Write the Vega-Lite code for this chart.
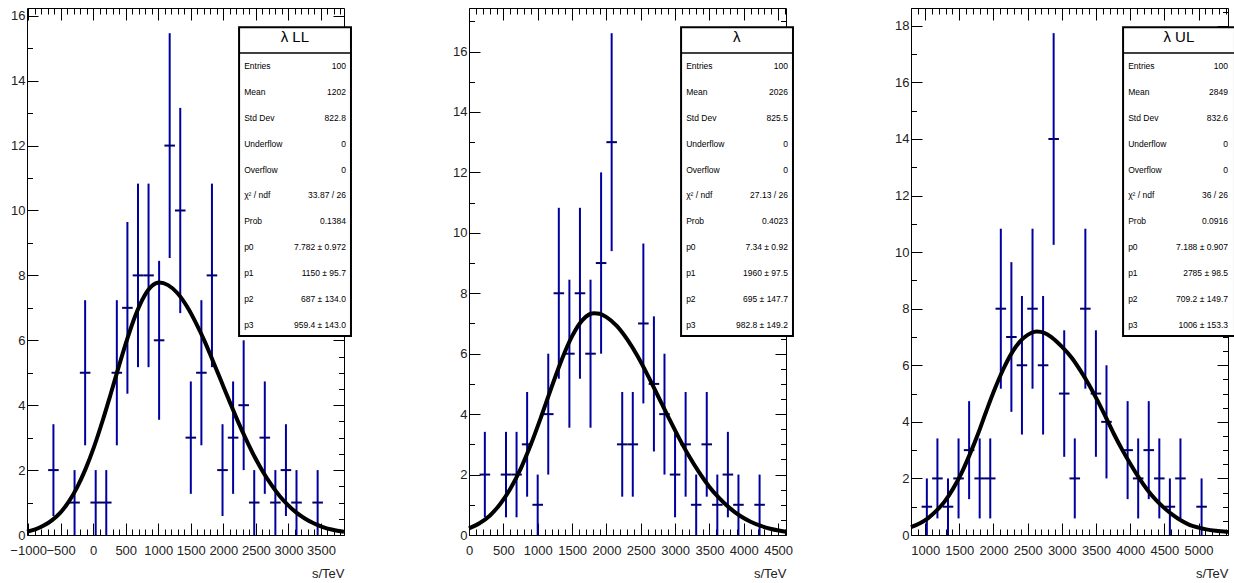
{
  "$schema": "https://vega.github.io/schema/vega-lite/v6.json",
  "background": "white",
  "padding": {"left": 9, "top": 7, "right": 0, "bottom": 0},
  "bounds": "flush",
  "spacing": 125,
  "config": {
    "view": {"stroke": "black", "strokeWidth": 1},
    "font": "Liberation Sans",
    "axis": {"labelFont": "Liberation Sans", "titleFont": "Liberation Sans", "labelColor": "#222", "titleColor": "#222", "tickColor": "black", "tickWidth": 1, "grid": false, "domain": false, "labelFontSize": 13, "titleFontSize": 13, "titleFontWeight": "normal"},
    "text": {"font": "Liberation Sans"}
  },
  "datasets": {
    "hist1": [
      {"s": -611.0, "s0": -692.2, "s1": -529.8, "n": 2, "lo": 0.586, "hi": 3.414},
      {"s": -286.2, "s0": -367.4, "s1": -205.0, "n": 1, "lo": 0, "hi": 2},
      {"s": -123.8, "s0": -205.0, "s1": -42.6, "n": 5, "lo": 2.764, "hi": 7.236},
      {"s": 38.6, "s0": -42.6, "s1": 119.8, "n": 1, "lo": 0, "hi": 2},
      {"s": 201.0, "s0": 119.8, "s1": 282.2, "n": 1, "lo": 0, "hi": 2},
      {"s": 363.4, "s0": 282.2, "s1": 444.6, "n": 5, "lo": 2.764, "hi": 7.236},
      {"s": 525.8, "s0": 444.6, "s1": 607.0, "n": 7, "lo": 4.354, "hi": 9.646},
      {"s": 688.2, "s0": 607.0, "s1": 769.4, "n": 8, "lo": 5.172, "hi": 10.828},
      {"s": 850.6, "s0": 769.4, "s1": 931.8, "n": 8, "lo": 5.172, "hi": 10.828},
      {"s": 1013.0, "s0": 931.8, "s1": 1094.2, "n": 6, "lo": 3.551, "hi": 8.449},
      {"s": 1175.4, "s0": 1094.2, "s1": 1256.6, "n": 12, "lo": 8.536, "hi": 15.464},
      {"s": 1337.8, "s0": 1256.6, "s1": 1419.0, "n": 10, "lo": 6.838, "hi": 13.162},
      {"s": 1500.2, "s0": 1419.0, "s1": 1581.4, "n": 3, "lo": 1.268, "hi": 4.732},
      {"s": 1662.6, "s0": 1581.4, "s1": 1743.8, "n": 5, "lo": 2.764, "hi": 7.236},
      {"s": 1825.0, "s0": 1743.8, "s1": 1906.2, "n": 8, "lo": 5.172, "hi": 10.828},
      {"s": 1987.4, "s0": 1906.2, "s1": 2068.6, "n": 2, "lo": 0.586, "hi": 3.414},
      {"s": 2149.8, "s0": 2068.6, "s1": 2231.0, "n": 3, "lo": 1.268, "hi": 4.732},
      {"s": 2312.2, "s0": 2231.0, "s1": 2393.4, "n": 4, "lo": 2, "hi": 6},
      {"s": 2474.6, "s0": 2393.4, "s1": 2555.8, "n": 1, "lo": 0, "hi": 2},
      {"s": 2637.0, "s0": 2555.8, "s1": 2718.2, "n": 3, "lo": 1.268, "hi": 4.732},
      {"s": 2799.4, "s0": 2718.2, "s1": 2880.6, "n": 1, "lo": 0, "hi": 2},
      {"s": 2961.8, "s0": 2880.6, "s1": 3043.0, "n": 2, "lo": 0.586, "hi": 3.414},
      {"s": 3124.2, "s0": 3043.0, "s1": 3205.4, "n": 1, "lo": 0, "hi": 2},
      {"s": 3449.0, "s0": 3367.8, "s1": 3530.2, "n": 1, "lo": 0, "hi": 2}
    ],
    "hist2": [
      {"s": 228.9, "s0": 152.0, "s1": 305.9, "n": 2, "lo": 0.586, "hi": 3.414},
      {"s": 536.7, "s0": 459.8, "s1": 613.7, "n": 2, "lo": 0.586, "hi": 3.414},
      {"s": 690.6, "s0": 613.7, "s1": 767.6, "n": 2, "lo": 0.586, "hi": 3.414},
      {"s": 844.5, "s0": 767.6, "s1": 921.5, "n": 3, "lo": 1.268, "hi": 4.732},
      {"s": 998.4, "s0": 921.5, "s1": 1075.4, "n": 1, "lo": 0, "hi": 2},
      {"s": 1152.3, "s0": 1075.4, "s1": 1229.3, "n": 4, "lo": 2, "hi": 6},
      {"s": 1306.2, "s0": 1229.3, "s1": 1383.2, "n": 8, "lo": 5.172, "hi": 10.828},
      {"s": 1460.1, "s0": 1383.2, "s1": 1537.1, "n": 6, "lo": 3.551, "hi": 8.449},
      {"s": 1614.0, "s0": 1537.1, "s1": 1691.0, "n": 8, "lo": 5.172, "hi": 10.828},
      {"s": 1767.9, "s0": 1691.0, "s1": 1844.9, "n": 6, "lo": 3.551, "hi": 8.449},
      {"s": 1921.8, "s0": 1844.9, "s1": 1998.8, "n": 9, "lo": 6, "hi": 12},
      {"s": 2075.7, "s0": 1998.8, "s1": 2152.7, "n": 13, "lo": 9.394, "hi": 16.606},
      {"s": 2229.6, "s0": 2152.7, "s1": 2306.6, "n": 3, "lo": 1.268, "hi": 4.732},
      {"s": 2383.5, "s0": 2306.6, "s1": 2460.5, "n": 3, "lo": 1.268, "hi": 4.732},
      {"s": 2537.4, "s0": 2460.5, "s1": 2614.4, "n": 7, "lo": 4.354, "hi": 9.646},
      {"s": 2691.3, "s0": 2614.4, "s1": 2768.3, "n": 5, "lo": 2.764, "hi": 7.236},
      {"s": 2845.2, "s0": 2768.3, "s1": 2922.2, "n": 4, "lo": 2, "hi": 6},
      {"s": 2999.1, "s0": 2922.2, "s1": 3076.1, "n": 2, "lo": 0.586, "hi": 3.414},
      {"s": 3153.0, "s0": 3076.1, "s1": 3230.0, "n": 3, "lo": 1.268, "hi": 4.732},
      {"s": 3306.9, "s0": 3230.0, "s1": 3383.9, "n": 1, "lo": 0, "hi": 2},
      {"s": 3460.8, "s0": 3383.9, "s1": 3537.8, "n": 3, "lo": 1.268, "hi": 4.732},
      {"s": 3614.7, "s0": 3537.8, "s1": 3691.7, "n": 1, "lo": 0, "hi": 2},
      {"s": 3768.6, "s0": 3691.7, "s1": 3845.6, "n": 2, "lo": 0.586, "hi": 3.414},
      {"s": 3922.5, "s0": 3845.6, "s1": 3999.5, "n": 1, "lo": 0, "hi": 2},
      {"s": 4230.3, "s0": 4153.4, "s1": 4307.3, "n": 1, "lo": 0, "hi": 2}
    ],
    "hist3": [
      {"s": 1024.9, "s0": 947.6, "s1": 1102.2, "n": 1, "lo": 0, "hi": 2},
      {"s": 1179.5, "s0": 1102.2, "s1": 1256.8, "n": 2, "lo": 0.586, "hi": 3.414},
      {"s": 1334.1, "s0": 1256.8, "s1": 1411.4, "n": 1, "lo": 0, "hi": 2},
      {"s": 1488.7, "s0": 1411.4, "s1": 1566.0, "n": 2, "lo": 0.586, "hi": 3.414},
      {"s": 1643.3, "s0": 1566.0, "s1": 1720.6, "n": 3, "lo": 1.268, "hi": 4.732},
      {"s": 1797.9, "s0": 1720.6, "s1": 1875.2, "n": 2, "lo": 0.586, "hi": 3.414},
      {"s": 1952.5, "s0": 1875.2, "s1": 2029.8, "n": 2, "lo": 0.586, "hi": 3.414},
      {"s": 2107.1, "s0": 2029.8, "s1": 2184.4, "n": 8, "lo": 5.172, "hi": 10.828},
      {"s": 2261.7, "s0": 2184.4, "s1": 2339.0, "n": 7, "lo": 4.354, "hi": 9.646},
      {"s": 2416.3, "s0": 2339.0, "s1": 2493.6, "n": 6, "lo": 3.551, "hi": 8.449},
      {"s": 2570.9, "s0": 2493.6, "s1": 2648.2, "n": 8, "lo": 5.172, "hi": 10.828},
      {"s": 2725.5, "s0": 2648.2, "s1": 2802.8, "n": 6, "lo": 3.551, "hi": 8.449},
      {"s": 2880.1, "s0": 2802.8, "s1": 2957.4, "n": 14, "lo": 10.258, "hi": 17.742},
      {"s": 3034.7, "s0": 2957.4, "s1": 3112.0, "n": 5, "lo": 2.764, "hi": 7.236},
      {"s": 3189.3, "s0": 3112.0, "s1": 3266.6, "n": 2, "lo": 0.586, "hi": 3.414},
      {"s": 3343.9, "s0": 3266.6, "s1": 3421.2, "n": 8, "lo": 5.172, "hi": 10.828},
      {"s": 3498.5, "s0": 3421.2, "s1": 3575.8, "n": 5, "lo": 2.764, "hi": 7.236},
      {"s": 3653.1, "s0": 3575.8, "s1": 3730.4, "n": 4, "lo": 2, "hi": 6},
      {"s": 3962.3, "s0": 3885.0, "s1": 4039.6, "n": 3, "lo": 1.268, "hi": 4.732},
      {"s": 4116.9, "s0": 4039.6, "s1": 4194.2, "n": 2, "lo": 0.586, "hi": 3.414},
      {"s": 4271.5, "s0": 4194.2, "s1": 4348.8, "n": 3, "lo": 1.268, "hi": 4.732},
      {"s": 4426.1, "s0": 4348.8, "s1": 4503.4, "n": 2, "lo": 0.586, "hi": 3.414},
      {"s": 4580.7, "s0": 4503.4, "s1": 4658.0, "n": 1, "lo": 0, "hi": 2},
      {"s": 4735.3, "s0": 4658.0, "s1": 4812.6, "n": 2, "lo": 0.586, "hi": 3.414},
      {"s": 5044.5, "s0": 4967.2, "s1": 5121.8, "n": 1, "lo": 0, "hi": 2}
    ],
    "curve1": [
      {"s": -1017, "f": 0.10}, {"s": -890, "f": 0.17}, {"s": -761, "f": 0.29}, {"s": -630, "f": 0.46},
      {"s": -504, "f": 0.69}, {"s": -375, "f": 1.03}, {"s": -247, "f": 1.47}, {"s": -118, "f": 2.03},
      {"s": 10, "f": 2.70}, {"s": 140, "f": 3.49}, {"s": 267, "f": 4.33}, {"s": 396, "f": 5.21},
      {"s": 525, "f": 6.05}, {"s": 650, "f": 6.77}, {"s": 782, "f": 7.35}, {"s": 900, "f": 7.67},
      {"s": 1014, "f": 7.78}, {"s": 1150, "f": 7.70}, {"s": 1296, "f": 7.45}, {"s": 1451, "f": 7.01},
      {"s": 1580, "f": 6.53}, {"s": 1708, "f": 5.99}, {"s": 1836, "f": 5.38}, {"s": 1965, "f": 4.75},
      {"s": 2094, "f": 4.12}, {"s": 2222, "f": 3.51}, {"s": 2351, "f": 2.94}, {"s": 2480, "f": 2.41},
      {"s": 2608, "f": 1.95}, {"s": 2736, "f": 1.55}, {"s": 2865, "f": 1.20}, {"s": 2994, "f": 0.92},
      {"s": 3123, "f": 0.69}, {"s": 3252, "f": 0.51}, {"s": 3380, "f": 0.37}, {"s": 3508, "f": 0.26},
      {"s": 3680, "f": 0.16}, {"s": 3854, "f": 0.10}
    ],
    "curve2": [
      {"s": -2, "f": 0.22}, {"s": 150, "f": 0.39}, {"s": 300, "f": 0.64}, {"s": 450, "f": 1.02},
      {"s": 600, "f": 1.53}, {"s": 750, "f": 2.19}, {"s": 900, "f": 3.00}, {"s": 1050, "f": 3.92},
      {"s": 1200, "f": 4.89}, {"s": 1350, "f": 5.81}, {"s": 1500, "f": 6.58}, {"s": 1650, "f": 7.11},
      {"s": 1750, "f": 7.30}, {"s": 1822, "f": 7.34}, {"s": 1900, "f": 7.32}, {"s": 2000, "f": 7.21},
      {"s": 2150, "f": 6.92}, {"s": 2300, "f": 6.48}, {"s": 2450, "f": 5.93}, {"s": 2600, "f": 5.29},
      {"s": 2750, "f": 4.60}, {"s": 2900, "f": 3.91}, {"s": 3050, "f": 3.24}, {"s": 3200, "f": 2.62},
      {"s": 3350, "f": 2.07}, {"s": 3500, "f": 1.59}, {"s": 3650, "f": 1.20}, {"s": 3800, "f": 0.88},
      {"s": 3950, "f": 0.63}, {"s": 4100, "f": 0.44}, {"s": 4250, "f": 0.30}, {"s": 4400, "f": 0.20},
      {"s": 4615, "f": 0.11}
    ],
    "curve3": [
      {"s": 793, "f": 0.28}, {"s": 917, "f": 0.41}, {"s": 1040, "f": 0.59}, {"s": 1162, "f": 0.85},
      {"s": 1284, "f": 1.18}, {"s": 1407, "f": 1.63}, {"s": 1530, "f": 2.18}, {"s": 1653, "f": 2.85},
      {"s": 1776, "f": 3.59}, {"s": 1898, "f": 4.40}, {"s": 2020, "f": 5.17}, {"s": 2143, "f": 5.86},
      {"s": 2266, "f": 6.43}, {"s": 2380, "f": 6.82}, {"s": 2462, "f": 7.01}, {"s": 2550, "f": 7.14},
      {"s": 2634, "f": 7.19}, {"s": 2750, "f": 7.14}, {"s": 2855, "f": 6.98}, {"s": 3000, "f": 6.66},
      {"s": 3150, "f": 6.25}, {"s": 3270, "f": 5.82}, {"s": 3395, "f": 5.32}, {"s": 3520, "f": 4.76},
      {"s": 3640, "f": 4.18}, {"s": 3760, "f": 3.58}, {"s": 3886, "f": 3.00}, {"s": 4010, "f": 2.48},
      {"s": 4131, "f": 2.01}, {"s": 4250, "f": 1.60}, {"s": 4376, "f": 1.24}, {"s": 4500, "f": 0.95},
      {"s": 4622, "f": 0.71}, {"s": 4745, "f": 0.51}, {"s": 4867, "f": 0.36}, {"s": 5000, "f": 0.26},
      {"s": 5112, "f": 0.20}, {"s": 5250, "f": 0.15}, {"s": 5431, "f": 0.11}
    ],
    "stats1": [
      {"r": 1, "label": "Entries", "val": "100"},
      {"r": 2, "label": "Mean", "val": "1202"},
      {"r": 3, "label": "Std Dev", "val": "822.8"},
      {"r": 4, "label": "Underflow", "val": "0"},
      {"r": 5, "label": "Overflow", "val": "0"},
      {"r": 6, "label": "χ² / ndf", "val": "33.87 / 26"},
      {"r": 7, "label": "Prob", "val": "0.1384"},
      {"r": 8, "label": "p0", "val": "7.782 ± 0.972"},
      {"r": 9, "label": "p1", "val": "1150 ± 95.7"},
      {"r": 10, "label": "p2", "val": "687 ± 134.0"},
      {"r": 11, "label": "p3", "val": "959.4 ± 143.0"}
    ],
    "stats2": [
      {"r": 1, "label": "Entries", "val": "100"},
      {"r": 2, "label": "Mean", "val": "2026"},
      {"r": 3, "label": "Std Dev", "val": "825.5"},
      {"r": 4, "label": "Underflow", "val": "0"},
      {"r": 5, "label": "Overflow", "val": "0"},
      {"r": 6, "label": "χ² / ndf", "val": "27.13 / 26"},
      {"r": 7, "label": "Prob", "val": "0.4023"},
      {"r": 8, "label": "p0", "val": "7.34 ± 0.92"},
      {"r": 9, "label": "p1", "val": "1960 ± 97.5"},
      {"r": 10, "label": "p2", "val": "695 ± 147.7"},
      {"r": 11, "label": "p3", "val": "982.8 ± 149.2"}
    ],
    "stats3": [
      {"r": 1, "label": "Entries", "val": "100"},
      {"r": 2, "label": "Mean", "val": "2849"},
      {"r": 3, "label": "Std Dev", "val": "832.6"},
      {"r": 4, "label": "Underflow", "val": "0"},
      {"r": 5, "label": "Overflow", "val": "0"},
      {"r": 6, "label": "χ² / ndf", "val": "36 / 26"},
      {"r": 7, "label": "Prob", "val": "0.0916"},
      {"r": 8, "label": "p0", "val": "7.188 ± 0.907"},
      {"r": 9, "label": "p1", "val": "2785 ± 98.5"},
      {"r": 10, "label": "p2", "val": "709.2 ± 149.7"},
      {"r": 11, "label": "p3", "val": "1006 ± 153.3"}
    ]
  },
  "hconcat": [
    {
      "width": 317, "height": 527,
      "layer": [
        {
          "layer": [
            {
              "data": {"name": "hist1"},
              "mark": {"type": "rule", "color": "#0000a0", "strokeWidth": 2},
              "encoding": {
                "x": {"field": "s", "type": "quantitative", "scale": {"domain": [-1017, 3854], "nice": false, "zero": false},
                  "axis": {"orient": "bottom", "values": [-1000,-900,-800,-700,-600,-500,-400,-300,-200,-100,0,100,200,300,400,500,600,700,800,900,1000,1100,1200,1300,1400,1500,1600,1700,1800,1900,2000,2100,2200,2300,2400,2500,2600,2700,2800,2900,3000,3100,3200,3300,3400,3500,3600,3700,3800],
                    "format": "d", "labelExpr": "datum.value % 500 === 0 ? datum.label : ''",
                    "tickSize": {"condition": {"test": "datum.value % 500 === 0", "value": -12}, "value": -6},
                    "labelPadding": 21, "labelFlush": false, "labelOverlap": false, "labelBound": false,
                    "title": "s/TeV", "titleAnchor": "end", "titlePadding": 4}},
                "y": {"field": "lo", "type": "quantitative", "scale": {"domain": [0, 16.24], "nice": false, "zero": false},
                  "axis": {"orient": "left", "format": "d", "values": [0,0.5,1,1.5,2,2.5,3,3.5,4,4.5,5,5.5,6,6.5,7,7.5,8,8.5,9,9.5,10,10.5,11,11.5,12,12.5,13,13.5,14,14.5,15,15.5,16],
                    "labelExpr": "datum.value % 2 === 0 ? datum.label : ''",
                    "tickSize": {"condition": {"test": "datum.value % 2 === 0", "value": -11}, "value": -5.5},
                    "labelPadding": 13, "labelOverlap": false, "labelBound": false, "title": null}},
                "y2": {"field": "hi"}
              }
            },
            {
              "data": {"name": "hist1"},
              "mark": {"type": "rule", "color": "#000070", "strokeWidth": 2},
              "encoding": {
                "x": {"field": "s0", "type": "quantitative", "scale": {"domain": [-1017, 3854], "nice": false, "zero": false}, "axis": null},
                "x2": {"field": "s1"},
                "y": {"field": "n", "type": "quantitative", "scale": {"domain": [0, 16.24], "nice": false, "zero": false}, "axis": null}
              }
            },
            {
              "data": {"name": "curve1"},
              "mark": {"type": "line", "color": "black", "strokeWidth": 4, "interpolate": "monotone"},
              "encoding": {
                "x": {"field": "s", "type": "quantitative", "scale": {"domain": [-1017, 3854], "nice": false, "zero": false},
                  "axis": {"orient": "top", "values": [-1000,-900,-800,-700,-600,-500,-400,-300,-200,-100,0,100,200,300,400,500,600,700,800,900,1000,1100,1200,1300,1400,1500,1600,1700,1800,1900,2000,2100,2200,2300,2400,2500,2600,2700,2800,2900,3000,3100,3200,3300,3400,3500,3600,3700,3800],
                    "labels": false, "title": null,
                    "tickSize": {"condition": {"test": "datum.value % 500 === 0", "value": -12}, "value": -6}}},
                "y": {"field": "f", "type": "quantitative", "scale": {"domain": [0, 16.24], "nice": false, "zero": false},
                  "axis": {"orient": "right", "values": [0,0.5,1,1.5,2,2.5,3,3.5,4,4.5,5,5.5,6,6.5,7,7.5,8,8.5,9,9.5,10,10.5,11,11.5,12,12.5,13,13.5,14,14.5,15,15.5,16],
                    "labels": false, "title": null,
                    "tickSize": {"condition": {"test": "datum.value % 2 === 0", "value": -11}, "value": -5.5}}}
              }
            }
          ],
          "resolve": {"axis": {"x": "independent", "y": "independent"}}
        },
        {
          "layer": [
            {
              "data": {"values": [{}]},
              "mark": {"type": "rect", "fill": "white", "stroke": "black", "strokeWidth": 2},
              "encoding": {
                "x": {"datum": 0.669, "type": "quantitative", "scale": {"domain": [0, 1], "nice": false, "zero": false}, "axis": null},
                "x2": {"datum": 1.022},
                "y": {"datum": -0.494, "type": "quantitative", "scale": {"domain": [-1.239, 19.11], "reverse": true, "nice": false, "zero": false}, "axis": null},
                "y2": {"datum": 11.425}
              }
            },
            {
              "data": {"values": [{}]},
              "mark": {"type": "rule", "color": "black", "strokeWidth": 1.5},
              "encoding": {
                "x": {"datum": 0.669, "type": "quantitative", "scale": {"domain": [0, 1], "nice": false, "zero": false}, "axis": null},
                "x2": {"datum": 1.022},
                "y": {"datum": 0.499, "type": "quantitative", "scale": {"domain": [-1.239, 19.11], "reverse": true, "nice": false, "zero": false}, "axis": null}
              }
            },
            {
              "data": {"values": [{}]},
              "mark": {"type": "text", "fontSize": 15, "align": "center", "baseline": "middle", "color": "black"},
              "encoding": {
                "x": {"datum": 0.845, "type": "quantitative", "scale": {"domain": [0, 1], "nice": false, "zero": false}, "axis": null},
                "y": {"datum": -0.108, "type": "quantitative", "scale": {"domain": [-1.239, 19.11], "reverse": true, "nice": false, "zero": false}, "axis": null},
                "text": {"value": "λ LL"}
              }
            },
            {
              "data": {"name": "stats1"},
              "mark": {"type": "text", "fontSize": 8.5, "align": "left", "baseline": "middle", "color": "black"},
              "encoding": {
                "x": {"datum": 0.685, "type": "quantitative", "scale": {"domain": [0, 1], "nice": false, "zero": false}, "axis": null},
                "y": {"field": "r", "type": "quantitative", "scale": {"domain": [-1.239, 19.11], "reverse": true, "nice": false, "zero": false}, "axis": null},
                "text": {"field": "label"}
              }
            },
            {
              "data": {"name": "stats1"},
              "mark": {"type": "text", "fontSize": 8.5, "align": "right", "baseline": "middle", "color": "black"},
              "encoding": {
                "x": {"datum": 1.006, "type": "quantitative", "scale": {"domain": [0, 1], "nice": false, "zero": false}, "axis": null},
                "y": {"field": "r", "type": "quantitative", "scale": {"domain": [-1.239, 19.11], "reverse": true, "nice": false, "zero": false}, "axis": null},
                "text": {"field": "val"}
              }
            }
          ]
        }
      ],
      "resolve": {"scale": {"x": "independent", "y": "independent"}}
    },
    {
      "width": 317, "height": 527,
      "layer": [
        {
          "layer": [
            {
              "data": {"name": "hist2"},
              "mark": {"type": "rule", "color": "#0000a0", "strokeWidth": 2},
              "encoding": {
                "x": {"field": "s", "type": "quantitative", "scale": {"domain": [-2, 4615], "nice": false, "zero": false},
                  "axis": {"orient": "bottom", "values": [0,100,200,300,400,500,600,700,800,900,1000,1100,1200,1300,1400,1500,1600,1700,1800,1900,2000,2100,2200,2300,2400,2500,2600,2700,2800,2900,3000,3100,3200,3300,3400,3500,3600,3700,3800,3900,4000,4100,4200,4300,4400,4500,4600],
                    "format": "d", "labelExpr": "datum.value % 500 === 0 ? datum.label : ''",
                    "tickSize": {"condition": {"test": "datum.value % 500 === 0", "value": -12}, "value": -6},
                    "labelPadding": 21, "labelFlush": false, "labelOverlap": false, "labelBound": false,
                    "title": "s/TeV", "titleAnchor": "end", "titlePadding": 4}},
                "y": {"field": "lo", "type": "quantitative", "scale": {"domain": [0, 17.44], "nice": false, "zero": false},
                  "axis": {"orient": "left", "format": "d", "values": [0,0.5,1,1.5,2,2.5,3,3.5,4,4.5,5,5.5,6,6.5,7,7.5,8,8.5,9,9.5,10,10.5,11,11.5,12,12.5,13,13.5,14,14.5,15,15.5,16,16.5,17],
                    "labelExpr": "datum.value % 2 === 0 ? datum.label : ''",
                    "tickSize": {"condition": {"test": "datum.value % 2 === 0", "value": -11}, "value": -5.5},
                    "labelPadding": 13, "labelOverlap": false, "labelBound": false, "title": null}},
                "y2": {"field": "hi"}
              }
            },
            {
              "data": {"name": "hist2"},
              "mark": {"type": "rule", "color": "#000070", "strokeWidth": 2},
              "encoding": {
                "x": {"field": "s0", "type": "quantitative", "scale": {"domain": [-2, 4615], "nice": false, "zero": false}, "axis": null},
                "x2": {"field": "s1"},
                "y": {"field": "n", "type": "quantitative", "scale": {"domain": [0, 17.44], "nice": false, "zero": false}, "axis": null}
              }
            },
            {
              "data": {"name": "curve2"},
              "mark": {"type": "line", "color": "black", "strokeWidth": 4, "interpolate": "monotone"},
              "encoding": {
                "x": {"field": "s", "type": "quantitative", "scale": {"domain": [-2, 4615], "nice": false, "zero": false},
                  "axis": {"orient": "top", "values": [0,100,200,300,400,500,600,700,800,900,1000,1100,1200,1300,1400,1500,1600,1700,1800,1900,2000,2100,2200,2300,2400,2500,2600,2700,2800,2900,3000,3100,3200,3300,3400,3500,3600,3700,3800,3900,4000,4100,4200,4300,4400,4500,4600],
                    "labels": false, "title": null,
                    "tickSize": {"condition": {"test": "datum.value % 500 === 0", "value": -12}, "value": -6}}},
                "y": {"field": "f", "type": "quantitative", "scale": {"domain": [0, 17.44], "nice": false, "zero": false},
                  "axis": {"orient": "right", "values": [0,0.5,1,1.5,2,2.5,3,3.5,4,4.5,5,5.5,6,6.5,7,7.5,8,8.5,9,9.5,10,10.5,11,11.5,12,12.5,13,13.5,14,14.5,15,15.5,16,16.5,17],
                    "labels": false, "title": null,
                    "tickSize": {"condition": {"test": "datum.value % 2 === 0", "value": -11}, "value": -5.5}}}
              }
            }
          ],
          "resolve": {"axis": {"x": "independent", "y": "independent"}}
        },
        {
          "layer": [
            {
              "data": {"values": [{}]},
              "mark": {"type": "rect", "fill": "white", "stroke": "black", "strokeWidth": 2},
              "encoding": {
                "x": {"datum": 0.669, "type": "quantitative", "scale": {"domain": [0, 1], "nice": false, "zero": false}, "axis": null},
                "x2": {"datum": 1.022},
                "y": {"datum": -0.494, "type": "quantitative", "scale": {"domain": [-1.239, 19.11], "reverse": true, "nice": false, "zero": false}, "axis": null},
                "y2": {"datum": 11.425}
              }
            },
            {
              "data": {"values": [{}]},
              "mark": {"type": "rule", "color": "black", "strokeWidth": 1.5},
              "encoding": {
                "x": {"datum": 0.669, "type": "quantitative", "scale": {"domain": [0, 1], "nice": false, "zero": false}, "axis": null},
                "x2": {"datum": 1.022},
                "y": {"datum": 0.499, "type": "quantitative", "scale": {"domain": [-1.239, 19.11], "reverse": true, "nice": false, "zero": false}, "axis": null}
              }
            },
            {
              "data": {"values": [{}]},
              "mark": {"type": "text", "fontSize": 15, "align": "center", "baseline": "middle", "color": "black"},
              "encoding": {
                "x": {"datum": 0.845, "type": "quantitative", "scale": {"domain": [0, 1], "nice": false, "zero": false}, "axis": null},
                "y": {"datum": -0.108, "type": "quantitative", "scale": {"domain": [-1.239, 19.11], "reverse": true, "nice": false, "zero": false}, "axis": null},
                "text": {"value": "λ"}
              }
            },
            {
              "data": {"name": "stats2"},
              "mark": {"type": "text", "fontSize": 8.5, "align": "left", "baseline": "middle", "color": "black"},
              "encoding": {
                "x": {"datum": 0.685, "type": "quantitative", "scale": {"domain": [0, 1], "nice": false, "zero": false}, "axis": null},
                "y": {"field": "r", "type": "quantitative", "scale": {"domain": [-1.239, 19.11], "reverse": true, "nice": false, "zero": false}, "axis": null},
                "text": {"field": "label"}
              }
            },
            {
              "data": {"name": "stats2"},
              "mark": {"type": "text", "fontSize": 8.5, "align": "right", "baseline": "middle", "color": "black"},
              "encoding": {
                "x": {"datum": 1.006, "type": "quantitative", "scale": {"domain": [0, 1], "nice": false, "zero": false}, "axis": null},
                "y": {"field": "r", "type": "quantitative", "scale": {"domain": [-1.239, 19.11], "reverse": true, "nice": false, "zero": false}, "axis": null},
                "text": {"field": "val"}
              }
            }
          ]
        }
      ],
      "resolve": {"scale": {"x": "independent", "y": "independent"}}
    },
    {
      "width": 317, "height": 527,
      "layer": [
        {
          "layer": [
            {
              "data": {"name": "hist3"},
              "mark": {"type": "rule", "color": "#0000a0", "strokeWidth": 2},
              "encoding": {
                "x": {"field": "s", "type": "quantitative", "scale": {"domain": [793, 5431], "nice": false, "zero": false},
                  "axis": {"orient": "bottom", "values": [800,900,1000,1100,1200,1300,1400,1500,1600,1700,1800,1900,2000,2100,2200,2300,2400,2500,2600,2700,2800,2900,3000,3100,3200,3300,3400,3500,3600,3700,3800,3900,4000,4100,4200,4300,4400,4500,4600,4700,4800,4900,5000,5100,5200,5300,5400],
                    "format": "d", "labelExpr": "datum.value % 500 === 0 ? datum.label : ''",
                    "tickSize": {"condition": {"test": "datum.value % 500 === 0", "value": -12}, "value": -6},
                    "labelPadding": 21, "labelFlush": false, "labelOverlap": false, "labelBound": false,
                    "title": "s/TeV", "titleAnchor": "end", "titlePadding": 4}},
                "y": {"field": "lo", "type": "quantitative", "scale": {"domain": [0, 18.63], "nice": false, "zero": false},
                  "axis": {"orient": "left", "format": "d", "values": [0,0.5,1,1.5,2,2.5,3,3.5,4,4.5,5,5.5,6,6.5,7,7.5,8,8.5,9,9.5,10,10.5,11,11.5,12,12.5,13,13.5,14,14.5,15,15.5,16,16.5,17,17.5,18,18.5],
                    "labelExpr": "datum.value % 2 === 0 ? datum.label : ''",
                    "tickSize": {"condition": {"test": "datum.value % 2 === 0", "value": -11}, "value": -5.5},
                    "labelPadding": 13, "labelOverlap": false, "labelBound": false, "title": null}},
                "y2": {"field": "hi"}
              }
            },
            {
              "data": {"name": "hist3"},
              "mark": {"type": "rule", "color": "#000070", "strokeWidth": 2},
              "encoding": {
                "x": {"field": "s0", "type": "quantitative", "scale": {"domain": [793, 5431], "nice": false, "zero": false}, "axis": null},
                "x2": {"field": "s1"},
                "y": {"field": "n", "type": "quantitative", "scale": {"domain": [0, 18.63], "nice": false, "zero": false}, "axis": null}
              }
            },
            {
              "data": {"name": "curve3"},
              "mark": {"type": "line", "color": "black", "strokeWidth": 4, "interpolate": "monotone"},
              "encoding": {
                "x": {"field": "s", "type": "quantitative", "scale": {"domain": [793, 5431], "nice": false, "zero": false},
                  "axis": {"orient": "top", "values": [800,900,1000,1100,1200,1300,1400,1500,1600,1700,1800,1900,2000,2100,2200,2300,2400,2500,2600,2700,2800,2900,3000,3100,3200,3300,3400,3500,3600,3700,3800,3900,4000,4100,4200,4300,4400,4500,4600,4700,4800,4900,5000,5100,5200,5300,5400],
                    "labels": false, "title": null,
                    "tickSize": {"condition": {"test": "datum.value % 500 === 0", "value": -12}, "value": -6}}},
                "y": {"field": "f", "type": "quantitative", "scale": {"domain": [0, 18.63], "nice": false, "zero": false},
                  "axis": {"orient": "right", "values": [0,0.5,1,1.5,2,2.5,3,3.5,4,4.5,5,5.5,6,6.5,7,7.5,8,8.5,9,9.5,10,10.5,11,11.5,12,12.5,13,13.5,14,14.5,15,15.5,16,16.5,17,17.5,18,18.5],
                    "labels": false, "title": null,
                    "tickSize": {"condition": {"test": "datum.value % 2 === 0", "value": -11}, "value": -5.5}}}
              }
            }
          ],
          "resolve": {"axis": {"x": "independent", "y": "independent"}}
        },
        {
          "layer": [
            {
              "data": {"values": [{}]},
              "mark": {"type": "rect", "fill": "white", "stroke": "black", "strokeWidth": 2},
              "encoding": {
                "x": {"datum": 0.669, "type": "quantitative", "scale": {"domain": [0, 1], "nice": false, "zero": false}, "axis": null},
                "x2": {"datum": 1.022},
                "y": {"datum": -0.494, "type": "quantitative", "scale": {"domain": [-1.239, 19.11], "reverse": true, "nice": false, "zero": false}, "axis": null},
                "y2": {"datum": 11.425}
              }
            },
            {
              "data": {"values": [{}]},
              "mark": {"type": "rule", "color": "black", "strokeWidth": 1.5},
              "encoding": {
                "x": {"datum": 0.669, "type": "quantitative", "scale": {"domain": [0, 1], "nice": false, "zero": false}, "axis": null},
                "x2": {"datum": 1.022},
                "y": {"datum": 0.499, "type": "quantitative", "scale": {"domain": [-1.239, 19.11], "reverse": true, "nice": false, "zero": false}, "axis": null}
              }
            },
            {
              "data": {"values": [{}]},
              "mark": {"type": "text", "fontSize": 15, "align": "center", "baseline": "middle", "color": "black"},
              "encoding": {
                "x": {"datum": 0.845, "type": "quantitative", "scale": {"domain": [0, 1], "nice": false, "zero": false}, "axis": null},
                "y": {"datum": -0.108, "type": "quantitative", "scale": {"domain": [-1.239, 19.11], "reverse": true, "nice": false, "zero": false}, "axis": null},
                "text": {"value": "λ UL"}
              }
            },
            {
              "data": {"name": "stats3"},
              "mark": {"type": "text", "fontSize": 8.5, "align": "left", "baseline": "middle", "color": "black"},
              "encoding": {
                "x": {"datum": 0.685, "type": "quantitative", "scale": {"domain": [0, 1], "nice": false, "zero": false}, "axis": null},
                "y": {"field": "r", "type": "quantitative", "scale": {"domain": [-1.239, 19.11], "reverse": true, "nice": false, "zero": false}, "axis": null},
                "text": {"field": "label"}
              }
            },
            {
              "data": {"name": "stats3"},
              "mark": {"type": "text", "fontSize": 8.5, "align": "right", "baseline": "middle", "color": "black"},
              "encoding": {
                "x": {"datum": 1.0, "type": "quantitative", "scale": {"domain": [0, 1], "nice": false, "zero": false}, "axis": null},
                "y": {"field": "r", "type": "quantitative", "scale": {"domain": [-1.239, 19.11], "reverse": true, "nice": false, "zero": false}, "axis": null},
                "text": {"field": "val"}
              }
            }
          ]
        }
      ],
      "resolve": {"scale": {"x": "independent", "y": "independent"}}
    }
  ]
}
